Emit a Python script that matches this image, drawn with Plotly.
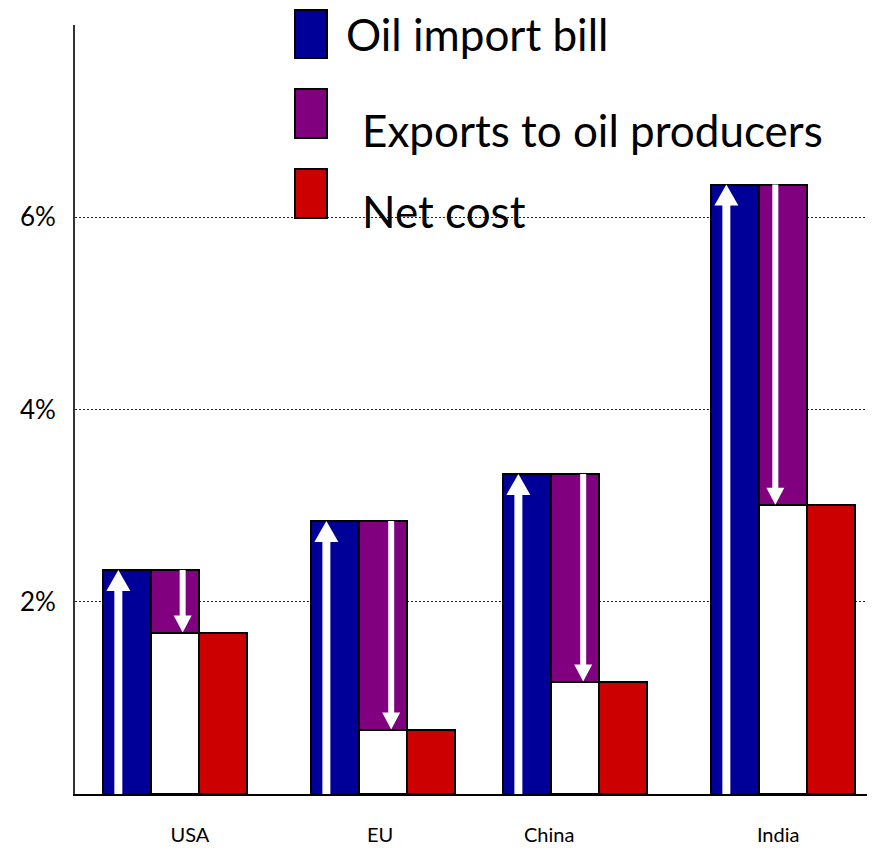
import plotly.graph_objects as go

# ---------------- data ----------------
countries = ["USA", "EU", "China", "India"]
oil_import_bill = [2.33, 2.84, 3.33, 6.34]          # % of GDP
exports_to_producers = [0.65, 2.17, 2.16, 3.33]     # % of GDP
net_cost = [a - e for a, e in zip(oil_import_bill, exports_to_producers)]

y_ticks = [2, 4, 6]
y_tick_text = ["2%", "4%", "6%"]

series_names = ["Oil import bill", "Exports to oil producers", "Net cost"]

# ---------------- style / layout constants ----------------
BLUE, PURPLE, RED = "#000099", "#800080", "#CC0000"
FONT = "Lato, Carlito, Calibri, sans-serif"
PAGE_OFF = 8                      # default body margin of the html page
W, H = 875 - PAGE_OFF, 852 - PAGE_OFF
M_L, M_R, M_T = 75 - PAGE_OFF, 0, 25 - PAGE_OFF
M_B = H - (794 - PAGE_OFF)
PX_PER_UNIT = 48.0                       # one bar = one x unit
X_MAX = (W - M_L - M_R) / PX_PER_UNIT
Y_MAX = 8.0
PX_PER_PCT = (H - M_T - M_B) / Y_MAX

# left edge of each country group, in bar-width units
lefts = [0.583, 4.917, 8.917, 13.25]
label_offsets = [1.81, 1.44, 0.96, 1.40]
up_arrow_offset = 0.32
down_arrow_offsets = [0.66, 0.67, 0.67, 0.34]

fig = go.Figure()

line = dict(color="black", width=2)
fig.add_trace(go.Bar(x=[l + 0.5 for l in lefts], y=oil_import_bill, base=0, width=1,
                     marker=dict(color=BLUE, line=line), name=series_names[0], showlegend=False))
fig.add_trace(go.Bar(x=[l + 1.5 for l in lefts], y=net_cost, base=0, width=1,
                     marker=dict(color="white", line=line), showlegend=False, hoverinfo="skip"))
fig.add_trace(go.Bar(x=[l + 1.5 for l in lefts], y=exports_to_producers, base=net_cost, width=1,
                     marker=dict(color=PURPLE, line=line), name=series_names[1], showlegend=False))
fig.add_trace(go.Bar(x=[l + 2.5 for l in lefts], y=net_cost, base=0, width=1,
                     marker=dict(color=RED, line=line), name=series_names[2], showlegend=False))

shapes = []
# up arrows in blue bars
sh, hw, hh = 4 / PX_PER_UNIT, 12 / PX_PER_UNIT, 21 / PX_PER_PCT
for l, top in zip(lefts, oil_import_bill):
    cx = l + up_arrow_offset
    b = top - hh
    path = (f"M{cx-sh},0 L{cx-sh},{b} L{cx-hw},{b} L{cx},{top} L{cx+hw},{b} "
            f"L{cx+sh},{b} L{cx+sh},0 Z")
    shapes.append(dict(type="path", path=path, xref="x", yref="y", fillcolor="white",
                       line=dict(width=0), layer="above"))
# down arrows in purple bars
sh, hw, hh = 3 / PX_PER_UNIT, 9 / PX_PER_UNIT, 17 / PX_PER_PCT
for l, off, top, bot in zip(lefts, down_arrow_offsets, oil_import_bill, net_cost):
    cx = l + 1 + off
    b = bot + hh
    path = (f"M{cx-sh},{top} L{cx-sh},{b} L{cx-hw},{b} L{cx},{bot} L{cx+hw},{b} "
            f"L{cx+sh},{b} L{cx+sh},{top} Z")
    shapes.append(dict(type="path", path=path, xref="x", yref="y", fillcolor="white",
                       line=dict(width=0), layer="above"))

# legend (custom, large swatches); positions given in page pixels
plot_w, plot_h = W - M_L - M_R, H - M_T - M_B
def px2paper_x(px):
    return (px - PAGE_OFF - M_L) / plot_w
def px2paper_y(py):
    return (H - M_B - (py - PAGE_OFF)) / plot_h

swatches = [(BLUE, 10, 58), (PURPLE, 89, 138), (RED, 169, 218)]
text_pos = [(344, 34), (360, 130), (360, 211)]
annotations = []
for (col, y0, y1), name, (tx, ty) in zip(swatches, series_names, text_pos):
    shapes.append(dict(type="rect", xref="paper", yref="paper",
                       x0=px2paper_x(295), x1=px2paper_x(327),
                       y0=px2paper_y(y1), y1=px2paper_y(y0),
                       fillcolor=col, line=dict(color="black", width=2), layer="above"))
    annotations.append(dict(text=name, xref="paper", yref="paper",
                            x=px2paper_x(tx), y=px2paper_y(ty),
                            xanchor="left", yanchor="middle", showarrow=False,
                            font=dict(family=FONT, size=44, color="black")))

fig.update_layout(
    width=W, height=H, autosize=False,
    margin=dict(l=M_L, r=M_R, t=M_T, b=M_B, pad=0, autoexpand=False),
    paper_bgcolor="white", plot_bgcolor="white",
    barmode="overlay", bargap=0,
    shapes=shapes, annotations=annotations,
    font=dict(family=FONT, color="black"),
    xaxis=dict(range=[0, X_MAX], showgrid=False, zeroline=False, automargin=False,
               showline=True, linecolor="black", linewidth=2,
               tickmode="array", tickvals=[l + o for l, o in zip(lefts, label_offsets)],
               ticktext=countries, ticks="", tickfont=dict(size=20, family=FONT),
               ticklabelstandoff=22),
    yaxis=dict(range=[0, Y_MAX], showgrid=True, gridcolor="#222", gridwidth=1,
               griddash="2px,2px", zeroline=False, automargin=False,
               showline=True, linecolor="#333", linewidth=2,
               tickmode="array", tickvals=y_ticks, ticktext=y_tick_text,
               ticks="", tickfont=dict(size=26, family=FONT), ticklabelstandoff=12),
)

fig.write_html("out.html")
